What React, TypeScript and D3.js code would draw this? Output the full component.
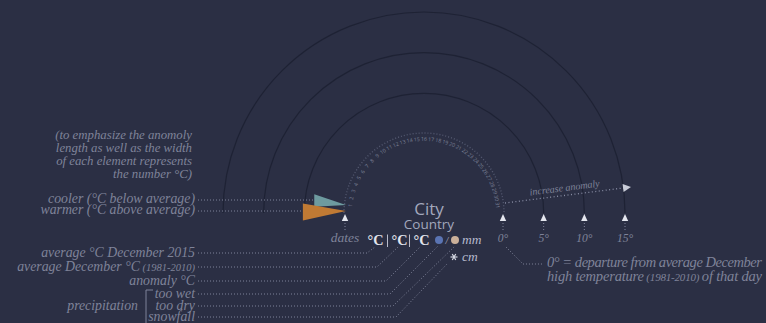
import React from "react";
import * as d3 from "d3";

const W = 766;
const H = 323;

// ---- data ----
const anomalyTicks = [0, 5, 10, 15];
const anomalyTickLabels = ["0°", "5°", "10°", "15°"];
const dates = [1, 2, 3, 4, 5, 6, 7, 8, 9, 10, 11, 12, 13, 14, 15, 16, 17, 18, 19, 20, 21, 22, 23, 24, 25, 26, 27, 28, 29, 30, 31];
const explainLines = [
  "(to emphasize the anomoly",
  "length as well as the width",
  "of each element represents",
  "the number °C)",
];
const exampleTypes = ["cooler", "warmer"];
const exampleLabels = ["cooler (°C below average)", "warmer (°C above average)"];
const exampleValues = [3.9, 5.3];
const keyLabels = ["average °C December 2015", "average December °C", "anomaly °C", "too wet", "too dry", "snowfall"];
const keySmall = ["", "(1981-2010)", "", "", "", ""];
const unitLabels = ["°C", "°C", "°C"];
const footLines = ["0° = departure from average December", "high temperature"];

const BG = "#2b2f44";
const TXT = "#7f8399";
const ARC = "#1e2234";

export default function App() {
  const cx = 424;
  const cy = 213;
  const r = d3.scaleLinear().domain([0, 15]).range([79, 201]);
  const dateAngle = d3.scaleLinear().domain([1, 31]).range([-84, 84]);
  const r0 = r(0);

  const semi = (rad: number) => {
    const p = d3.path();
    p.moveTo(cx - rad, cy);
    p.arc(cx, cy, rad, Math.PI, 2 * Math.PI);
    return p.toString();
  };

  const serifI = { fontFamily: "'Liberation Serif', serif", fontStyle: "italic" as const };

  // example triangles (length & width encode the anomaly)
  const tipX = cx - r0 + 1;
  const tri = (v: number, tipY: number, baseCenter: number) => {
    const len = r(v) - r0;
    const hw = v * 1.6;
    return [
      [tipX - len, baseCenter - hw],
      [tipX, tipY],
      [tipX - len, baseCenter + hw],
    ];
  };
  const triSpecs = [
    { pts: tri(exampleValues[0], 205, 200.5), fill: "#6e9ba0" },
    { pts: tri(exampleValues[1], 211, 212), fill: "#c07a34" },
  ];
  const line = d3.line();

  // key leader lines: label row y, bend x, target x, target y
  const keyRowY = [253, 267, 281, 294, 306, 317];
  const keyBendX = [367, 377, 386, 390, 393, 396];
  const keyTarget = [
    [375, 247],
    [398, 247],
    [420, 247],
    [438, 246],
    [455, 246],
    [448, 263],
  ];
  const unitX = [367.5, 391.5, 413.5];
  const barX = [387.5, 409.5];

  const arrow = (x: number, y: number) => `M${x},${y} L${x - 3.2},${y + 7} L${x + 3.2},${y + 7} Z`;

  const arrowXs = [cx - r0, ...anomalyTicks.map((t) => cx + r(t))];
  const arrowLabels = ["dates", ...anomalyTickLabels];

  // increase anomaly arrow
  const ia0 = [cx + r0 + 2, 203];
  const ia1 = [cx + r(15) + 6, 187];
  const iaAng = (Math.atan2(ia1[1] - ia0[1], ia1[0] - ia0[0]) * 180) / Math.PI;

  // snowflake
  const sf = [454, 257];
  const spokes = [0, 60, 120];

  return (
    <svg width={W} height={H} style={{ position: "absolute", left: 0, top: 0, background: BG }}>
      <rect width={W} height={H} fill={BG} />

      {/* anomaly rings */}
      {anomalyTicks.slice(1).map((t) => (
        <path key={t} d={semi(r(t))} fill="none" stroke={ARC} strokeWidth={1.2} />
      ))}
      <path d={semi(r0 + 1)} fill="none" stroke="#545970" strokeWidth={1.4} strokeDasharray="1,2" />

      {/* date numbers */}
      {dates.map((d) => {
        const a = dateAngle(d);
        const rad = (a * Math.PI) / 180;
        const rr = r0 - 5.5;
        const x = cx + rr * Math.sin(rad);
        const y = cy - rr * Math.cos(rad);
        return (
          <text
            key={d}
            x={x}
            y={y}
            transform={`rotate(${a},${x},${y})`}
            textAnchor="middle"
            dominantBaseline="middle"
            fontSize={5.2}
            fill="#7e8399"
            fontFamily="'Open Sans', sans-serif"
          >
            {d}
          </text>
        );
      })}

      {/* explanation paragraph */}
      {explainLines.map((t, i) => (
        <text key={t} x={192} y={139 + i * 13} textAnchor="end" fontSize={12.8} fill={TXT} {...serifI}>
          {t}
        </text>
      ))}

      {/* cooler / warmer */}
      {exampleLabels.map((t, i) => (
        <g key={t}>
          <text x={195} y={[203, 214][i]} textAnchor="end" fontSize={13.8} fill={TXT} {...serifI}>
            {t}
          </text>
          <line
            x1={198}
            x2={tipX - (r(exampleValues[i]) - r0) - 1}
            y1={[200, 211][i]}
            y2={[200, 211][i]}
            stroke={TXT}
            strokeDasharray="1,2"
          />
        </g>
      ))}
      {triSpecs.map((s, i) => (
        <path key={exampleTypes[i]} d={line(s.pts as [number, number][]) + "Z"} fill={s.fill} />
      ))}

      {/* arrows and labels */}
      {arrowXs.map((x, i) => (
        <g key={arrowLabels[i]}>
          <path d={arrow(x, 214)} fill="#e4e6ee" />
          <line x1={x} x2={x} y1={223} y2={230} stroke={TXT} strokeDasharray="1,2" />
          <text x={x} y={242} textAnchor="middle" fontSize={i === 0 ? 13.5 : 11.5} fill={TXT} {...serifI}>
            {arrowLabels[i]}
          </text>
        </g>
      ))}

      {/* increase anomaly */}
      <line x1={ia0[0]} y1={ia0[1]} x2={ia1[0] - 4} y2={ia1[1] + 0.5} stroke="#8a8fa6" strokeWidth={1.3} strokeDasharray="1,2.5" />
      <path
        d="M0,0 L-8,-4 L-8,4 Z"
        fill="#c9ccd8"
        transform={`translate(${ia1[0]},${ia1[1]}) rotate(${iaAng})`}
      />
      <text
        x={565}
        y={191}
        transform={`rotate(${iaAng},565,191)`}
        textAnchor="middle"
        fontSize={10}
        fill={TXT}
        {...serifI}
      >
        increase anomaly
      </text>

      {/* 0° footnote */}
      <polyline points="506,247 523,264 543,264" fill="none" stroke={TXT} strokeDasharray="1,2" />
      <text x={547} y={267} fontSize={14.5} fill={TXT} textLength={215} lengthAdjust="spacing" {...serifI}>
        {footLines[0]}
      </text>
      <text x={547} y={281} fontSize={14.5} fill={TXT} textLength={215} lengthAdjust="spacing" {...serifI}>
        {footLines[1]}
        <tspan fontSize={11}> (1981-2010) </tspan>
        of that day
      </text>

      {/* City / Country */}
      <text x={429} y={215} textAnchor="middle" fontSize={17} fill="#a3a8bc" fontFamily="'Open Sans', sans-serif">
        City
      </text>
      <text x={429} y={229} textAnchor="middle" fontSize={13.5} fill="#a3a8bc" fontFamily="'Open Sans', sans-serif">
        Country
      </text>

      {/* units row */}
      {unitLabels.map((u, i) => (
        <text key={i} x={unitX[i]} y={245} fontSize={15} fontWeight="bold" fill="#e2e4ec" fontFamily="'Liberation Serif', serif" textLength={16} lengthAdjust="spacingAndGlyphs">
          {u}
        </text>
      ))}
      {barX.map((x) => (
        <line key={x} x1={x} x2={x} y1={234.5} y2={247} stroke="#b9bccb" strokeWidth={1} />
      ))}
      <circle cx={439} cy={240} r={4} fill="#5a74b3" />
      <text x={447} y={244} textAnchor="middle" fontSize={10} fill="#b5b9cc" {...serifI}>
        /
      </text>
      <circle cx={455} cy={240} r={4} fill="#cbb09a" />
      <text x={462} y={244} fontSize={13.5} fill="#b5b9cc" {...serifI}>
        mm
      </text>
      {spokes.map((a) => (
        <line
          key={a}
          x1={sf[0] - 3.5 * Math.cos((a * Math.PI) / 180)}
          y1={sf[1] - 3.5 * Math.sin((a * Math.PI) / 180)}
          x2={sf[0] + 3.5 * Math.cos((a * Math.PI) / 180)}
          y2={sf[1] + 3.5 * Math.sin((a * Math.PI) / 180)}
          stroke="#d4d7e2"
          strokeWidth={1.2}
        />
      ))}
      <text x={462} y={261} fontSize={13.5} fill="#b5b9cc" {...serifI}>
        cm
      </text>

      {/* key labels & leaders */}
      {keyLabels.map((t, i) => (
        <g key={t}>
          <text x={195} y={keyRowY[i] + 4} textAnchor="end" fontSize={13.8} fill={TXT} {...serifI}>
            {t}
            {keySmall[i] ? <tspan fontSize={10.5}> {keySmall[i]}</tspan> : null}
          </text>
          <polyline
            points={`198,${keyRowY[i]} ${keyBendX[i]},${keyRowY[i]} ${keyTarget[i][0]},${keyTarget[i][1]}`}
            fill="none"
            stroke={TXT}
            strokeDasharray="1,2"
          />
        </g>
      ))}

      {/* precipitation bracket */}
      <text x={138} y={310} textAnchor="end" fontSize={13.8} fill={TXT} {...serifI}>
        precipitation
      </text>
      <path d="M153,290 L146,290 L146,323" fill="none" stroke={TXT} strokeWidth={1} />
    </svg>
  );
}
